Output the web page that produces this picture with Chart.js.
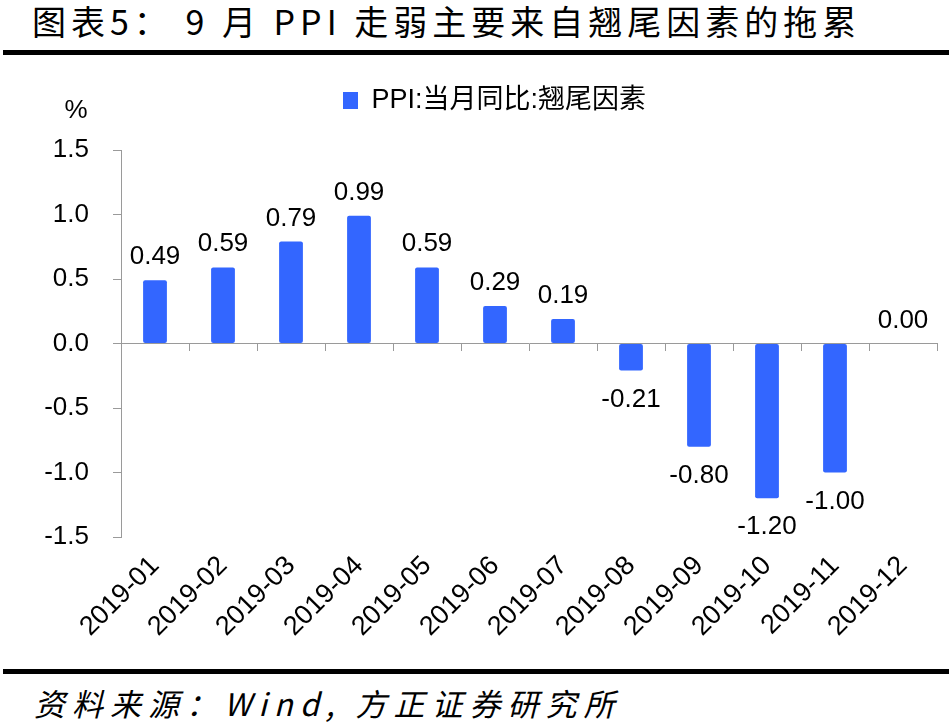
<!DOCTYPE html>
<html>
<head>
<meta charset="utf-8">
<script src="https://cdn.jsdelivr.net/npm/chart.js@4.4.1/dist/chart.umd.min.js"></script>
<style>
  html, body { margin: 0; padding: 0; background: #fff; }
  body { width: 949px; height: 723px; position: relative; overflow: hidden;
         font-family: "Noto Sans CJK SC", sans-serif; color: #000; }
  #title { position: absolute; left: 32px; top: 0; height: 42px; line-height: 42px;
           font-size: 34px; letter-spacing: 5px; white-space: nowrap; }
  .rule { position: absolute; left: 3px; right: 0; height: 5px; background: #000; }
  #wrap { position: absolute; left: 0; top: 58px; width: 949px; height: 607px; }
  #foot { position: absolute; left: 34px; top: 686px; height: 34px; line-height: 34px;
          font-size: 31px; font-style: italic; letter-spacing: 7px; white-space: nowrap; }
</style>
</head>
<body>
<div id="title">图表5：  9 月 PPI 走弱主要来自翘尾因素的拖累</div>
<div class="rule" style="top:50px"></div>
<div id="wrap"><canvas id="chart"></canvas></div>
<div class="rule" style="top:669px"></div>
<div id="foot">资料来源：Wind, 方正证券研究所</div>

<script>
(() => {
  // data
  const months = ['2019-01', '2019-02', '2019-03', '2019-04', '2019-05', '2019-06',
                  '2019-07', '2019-08', '2019-09', '2019-10', '2019-11', '2019-12'];
  const tailEffect = [0.49, 0.59, 0.79, 0.99, 0.59, 0.29, 0.19, -0.21, -0.80, -1.20, -1.00, 0.00];
  const seriesName = 'PPI:当月同比:翘尾因素';
  const yMin = -1.5, yMax = 1.5, yStep = 0.5;
  const unit = '%';

  const FONT = '"Liberation Sans", "Noto Sans CJK SC", Arial, sans-serif';
  const AXIS = '#9a9a9a';
  const BLUE = '#3366ff';

  // value labels above positive bars, below negative ones
  const valueLabels = {
    id: 'valueLabels',
    afterDatasetsDraw(chart) {
      const ctx = chart.ctx;
      const meta = chart.getDatasetMeta(0);
      ctx.save();
      ctx.font = '26px ' + FONT;
      ctx.fillStyle = '#000';
      ctx.textAlign = 'center';
      ctx.textBaseline = 'alphabetic';
      meta.data.forEach((bar, i) => {
        const v = tailEffect[i];
        const y = v >= 0 ? bar.y - 16 : bar.y + 36;
        ctx.fillText(v.toFixed(2), bar.x, y);
      });
      ctx.restore();
    }
  };

  // "%" above the y axis
  const unitLabel = {
    id: 'unitLabel',
    afterDraw(chart) {
      const ctx = chart.ctx;
      ctx.save();
      ctx.font = '26px ' + FONT;
      ctx.fillStyle = '#000';
      ctx.textAlign = 'center';
      ctx.textBaseline = 'middle';
      ctx.fillText(unit, 76, chart.chartArea.top - 39);
      ctx.restore();
    }
  };

  // fixed legend block height, legend nudged right like the original
  const legendFit = {
    id: 'legendFit',
    beforeUpdate(chart) {
      const lg = chart.legend;
      if (!lg || lg._patched) return;
      const fit = lg.fit;
      lg.fit = function () { fit.call(this); this.height = 92; };
      lg._patched = true;
    },
    afterLayout(chart) {
      chart.legend.left += 26;
      chart.legend.right += 26;
    }
  };

  new Chart(document.getElementById('chart'), {
    type: 'bar',
    data: {
      labels: months,
      datasets: [{
        label: seriesName,
        data: tailEffect,
        backgroundColor: BLUE,
        borderWidth: 0,
        borderRadius: 2,
        borderSkipped: false,
        barPercentage: 0.35,
        categoryPercentage: 1,
        xAxisID: 'x',
        yAxisID: 'y'
      }]
    },
    options: {
      responsive: true,
      maintainAspectRatio: false,
      animation: false,
      layout: { padding: { left: 0, right: 12, top: 0, bottom: 0 } },
      plugins: {
        tooltip: { enabled: false },
        legend: {
          position: 'top',
          labels: {
            font: { family: FONT, size: 27 },
            color: '#000',
            boxWidth: 15,
            boxHeight: 17,
            padding: 29
          }
        }
      },
      scales: {
        // category axis sitting on the zero line: ticks only
        x: {
          type: 'category',
          position: { y: 0 },
          offset: true,
          grid: { offset: true, drawOnChartArea: false, drawTicks: true, tickLength: 7, color: AXIS },
          border: { display: true, color: AXIS, width: 1 },
          ticks: { display: false }
        },
        // category axis at the bottom: rotated labels only
        xLabels: {
          type: 'category',
          position: 'bottom',
          offset: true,
          grid: { display: false, offset: true },
          border: { display: false },
          ticks: {
            autoSkip: false,
            maxRotation: 45,
            minRotation: 45,
            padding: 5,
            color: '#000',
            font: { family: FONT, size: 27 }
          },
          afterFit(scale) { scale.height = 128; }
        },
        y: {
          position: 'left',
          min: yMin,
          max: yMax,
          grid: { drawOnChartArea: false, drawTicks: true, tickLength: 8, color: AXIS },
          border: { display: true, color: AXIS, width: 1 },
          ticks: {
            stepSize: yStep,
            padding: 24,
            color: '#000',
            font: { family: FONT, size: 26 },
            callback: (v) => Number(v).toFixed(1)
          },
          afterFit(scale) { scale.width = 121; }
        }
      }
    },
    plugins: [legendFit, valueLabels, unitLabel]
  });
})();
</script>
</body>
</html>
